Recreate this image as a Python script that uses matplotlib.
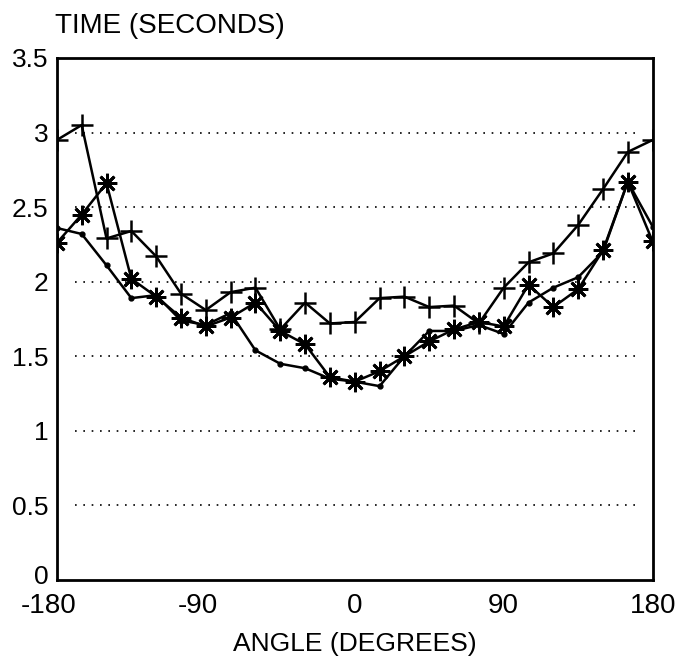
import matplotlib.pyplot as plt
import matplotlib.transforms as mtransforms
import numpy as np

plt.rcParams['font.family'] = ['Liberation Sans', 'DejaVu Sans']

angles = np.arange(-180, 181, 15)

# series
time_plus = [2.95, 3.05, 2.29, 2.34, 2.17, 1.92, 1.81, 1.93, 1.96, 1.68, 1.86, 1.72, 1.73,
             1.89, 1.90, 1.83, 1.84, 1.72, 1.96, 2.13, 2.19, 2.38, 2.62, 2.87, 2.95]
time_star = [2.26, 2.45, 2.66, 2.02, 1.90, 1.76, 1.70, 1.76, 1.86, 1.67, 1.58, 1.36, 1.33,
             1.40, 1.50, 1.60, 1.68, 1.73, 1.70, 1.98, 1.83, 1.95, 2.21, 2.67, 2.27]
time_dot = [2.36, 2.32, 2.11, 1.89, 1.91, 1.74, 1.71, 1.79, 1.54, 1.45, 1.42, 1.35, 1.33,
            1.30, 1.50, 1.67, 1.67, 1.71, 1.65, 1.86, 1.96, 2.03, 2.20, 2.67, 2.37]

x_ticks = [-180, -90, 0, 90, 180]
y_ticks = [0, 0.5, 1, 1.5, 2, 2.5, 3, 3.5]
y_labels = ["0", "0.5", "1", "1.5", "2", "2.5", "3", "3.5"]

fig = plt.figure(figsize=(6.77, 6.66), dpi=100)
ax = fig.add_axes([0.084, 0.129, 0.880, 0.784])

for y in y_ticks[1:-1]:
    ax.axhline(y, xmin=0.03, xmax=0.98, color="black", linestyle=(0, (1, 4)),
               linewidth=1.2, zorder=1)

ax.plot(angles, time_plus, color="black", linewidth=1.8, marker="+",
        markersize=16, markeredgewidth=1.8, zorder=3)
ax.plot(angles, time_star, color="black", linewidth=1.8, marker=(8, 2, 0),
        markersize=14, markeredgewidth=2.0, zorder=3)
ax.plot(angles, time_dot, color="black", linewidth=1.8, marker="o",
        markersize=3.5, zorder=3)

ax.set_xlim(-180, 180)
ax.set_ylim(0, 3.5)
ax.set_xticks(x_ticks)
ax.set_xticklabels([str(v) for v in x_ticks])
ax.set_yticks(y_ticks)
ax.set_yticklabels(y_labels)
ax.tick_params(axis="x", length=0, labelsize=20, pad=9)
ax.tick_params(axis="y", length=0, labelsize=19, pad=6)
for s in ax.spines.values():
    s.set_linewidth(2)

# minus sign hangs to the left of the number, as in the original
for lab, v in zip(ax.get_xticklabels(), x_ticks):
    if v < 0:
        lab.set_transform(lab.get_transform() +
                          mtransforms.ScaledTranslation(-6 / 72, 0, fig.dpi_scale_trans))
ylab0 = ax.get_yticklabels()[0]
ylab0.set_transform(ylab0.get_transform() +
                    mtransforms.ScaledTranslation(0, 4 / 72, fig.dpi_scale_trans))

ax.set_xlabel("ANGLE (DEGREES)", fontsize=19, labelpad=10)
fig.text(0.081, 0.950, "TIME (SECONDS)", fontsize=20, ha="left", va="baseline")

fig.savefig("out.png", dpi=100)
